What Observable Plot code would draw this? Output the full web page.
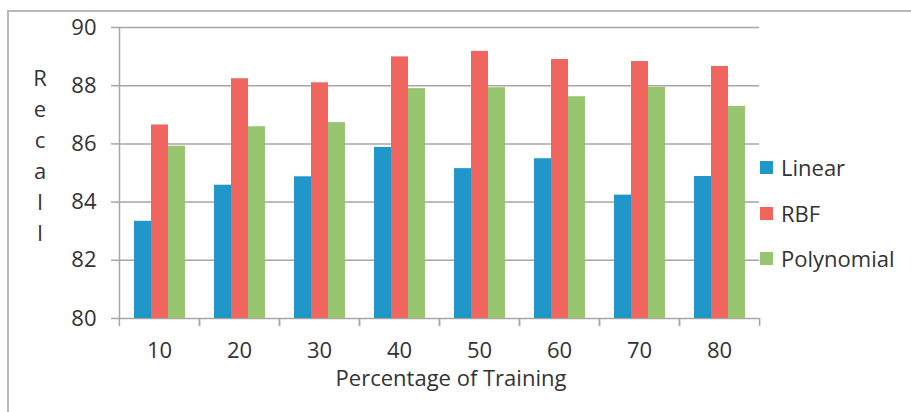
<!DOCTYPE html>
<html>
<head>
<meta charset="utf-8">
<script src="https://cdn.jsdelivr.net/npm/d3@7"></script>
<script src="https://cdn.jsdelivr.net/npm/@observablehq/plot@0.6"></script>
<style>
  html, body { margin: 0; padding: 0; background: #fff; }
  body { width: 911px; height: 412px; position: relative; overflow: hidden; font-family: "Open Sans", sans-serif; color: #333; }
  #border { position: absolute; left: 7px; top: 10px; right: -10px; bottom: -10px; border-left: 2px solid #b8b8b8; border-top: 2px solid #b8b8b8; pointer-events: none; }
  #chart { position: absolute; left: 0; top: 0; }
  #ytitle { position: absolute; left: 28px; top: 62px; width: 24px; text-align: center; font-size: 22px; line-height: 31px; }
  #xtitle { position: absolute; left: 251px; width: 400px; top: 365px; text-align: center; font-size: 22px; line-height: 24px; }
  .leg { position: absolute; left: 760px; height: 24px; display: flex; align-items: center; font-size: 22px; white-space: nowrap; }
  .sw { width: 13px; height: 13px; margin-right: 8px; }
</style>
</head>
<body>
<div id="chart"></div>
<div id="ytitle"></div>
<div id="xtitle"></div>
<div id="legend"></div>
<div id="border"></div>
<script>
const categories = ["10", "20", "30", "40", "50", "60", "70", "80"];
const series = ["Linear", "RBF", "Polynomial"];
const linear = [83.34, 84.58, 84.87, 85.88, 85.15, 85.49, 84.24, 84.88];
const rbf = [86.65, 88.24, 88.10, 88.99, 89.18, 88.90, 88.83, 88.66];
const polynomial = [85.92, 86.59, 86.73, 87.90, 87.93, 87.62, 87.94, 87.29];
const yTicks = [80, 82, 84, 86, 88, 90];
const colors = ["#1f97c9", "#f0665f", "#98c56f"];
const yTitle = "Recall";
const xTitle = "Percentage of Training";

const valuesBySeries = [linear, rbf, polynomial];
const data = [];
categories.forEach((c, i) => series.forEach((s, j) => data.push({cat: c, series: s, value: valuesBySeries[j][i]})));

const W = 911, H = 412, mL = 118, mR = 151, mT = 27, mB = 94;
const step = (W - mL - mR) / categories.length;
const gray = "#a6a6a6";

const plot = Plot.plot({
  width: W, height: H,
  marginLeft: mL, marginRight: mR, marginTop: mT, marginBottom: mB,
  style: {fontFamily: "Open Sans", fontSize: "22px", color: "#333", background: "transparent"},
  fx: {domain: categories, padding: 0, label: null},
  x: {domain: series, paddingInner: 0, paddingOuter: 0.76, axis: null},
  y: {domain: [yTicks[0], yTicks[yTicks.length - 1]], label: null},
  color: {domain: series, range: colors},
  marks: [
    Plot.gridY(yTicks, {stroke: gray, strokeWidth: 1.5, strokeOpacity: 1}),
    Plot.barY(data, {fx: "cat", x: "series", y1: yTicks[0], y2: "value", fill: "series"}),
    Plot.frame({anchor: "left", facetAnchor: "left", stroke: gray, strokeWidth: 1.5}),
    Plot.axisY(yTicks, {tickSize: 8, tickPadding: 15, stroke: gray, strokeWidth: 1.5, fill: "#333", fontSize: 22, label: null, tickFormat: d => String(d)}),
    Plot.axisFx({anchor: "bottom", tickSize: 0, tickPadding: 24, fontSize: 22, fill: "#333", label: null}),
    Plot.axisFx({anchor: "bottom", text: null, tickSize: 8, dx: -step / 2, stroke: gray, strokeWidth: 1.5, label: null}),
    Plot.axisFx([categories[categories.length - 1]], {anchor: "bottom", text: null, tickSize: 8, dx: step / 2, stroke: gray, strokeWidth: 1.5, label: null})
  ]
});
document.getElementById("chart").appendChild(plot);

document.getElementById("ytitle").innerHTML = yTitle.split("").map(ch => `<div>${ch}</div>`).join("");
document.getElementById("xtitle").textContent = xTitle;

const color = plot.scale("color");
const legendTops = [155, 201, 246];
const legend = document.getElementById("legend");
series.forEach((s, i) => {
  const row = document.createElement("div");
  row.className = "leg";
  row.style.top = legendTops[i] + "px";
  const sw = document.createElement("div");
  sw.className = "sw";
  sw.style.background = color.apply(s);
  const t = document.createElement("span");
  t.textContent = s;
  row.appendChild(sw);
  row.appendChild(t);
  legend.appendChild(row);
});
</script>
</body>
</html>
